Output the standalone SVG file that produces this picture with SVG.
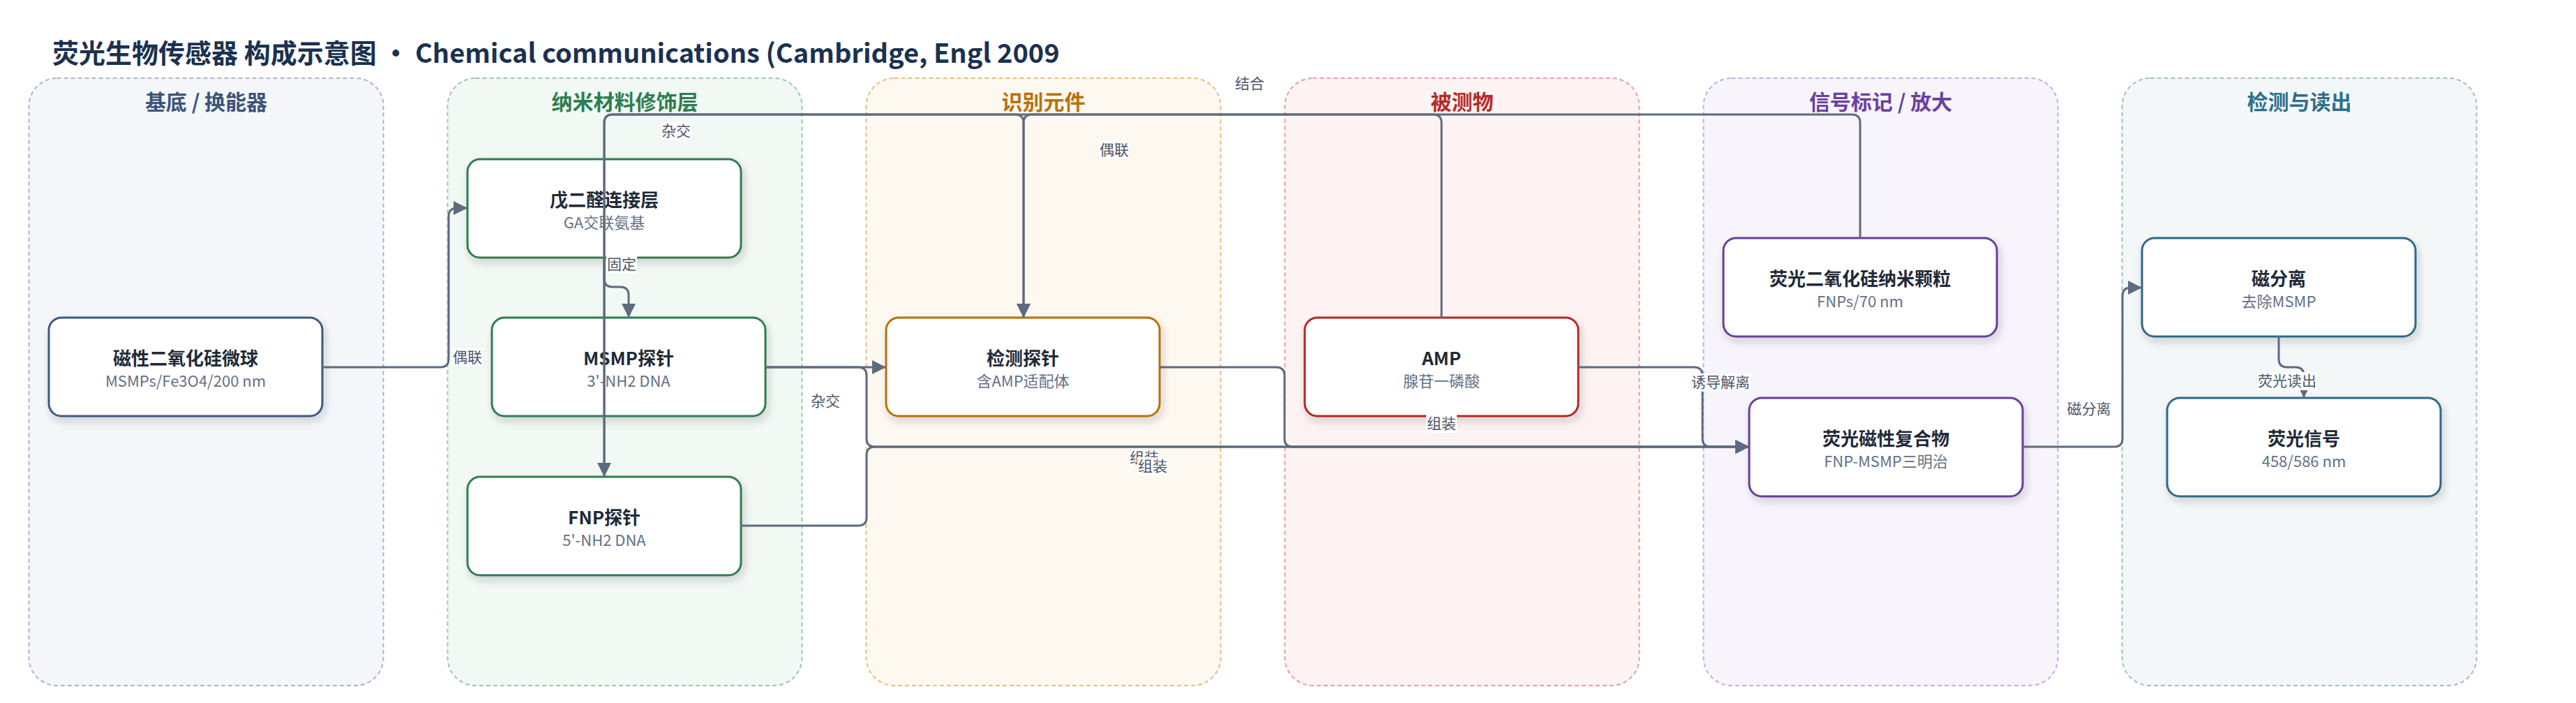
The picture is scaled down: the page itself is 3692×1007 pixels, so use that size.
<svg xmlns="http://www.w3.org/2000/svg" width="3692" height="1007" viewBox="0 0 3692 1007">
<defs>
<style>
text{font-family:"Noto Sans CJK SC","Noto Sans",sans-serif}
.title{font-size:38px;font-weight:700;fill:#1b3150}
.lane{stroke-width:2;stroke-dasharray:6 4}
.lt{font-size:30px;font-weight:700;text-anchor:middle}
.node rect{fill:#fff;stroke-width:3;filter:url(#sh)}
.nt{font-size:26px;font-weight:700;fill:#1f2a37;text-anchor:middle}
.ns{font-size:22px;fill:#667085;text-anchor:middle}
.e{fill:none;stroke:#5c6b7f;stroke-width:3}
.ea{marker-end:url(#arr)}
.lb{font-size:21px;fill:#4a5568;text-anchor:middle}
.lbg{fill:#fff}
</style>
<filter id="sh" x="-10%" y="-10%" width="130%" height="140%">
<feDropShadow dx="3" dy="6" stdDeviation="6" flood-color="#1e293b" flood-opacity="0.18"/>
</filter>
<marker id="arr" viewBox="0 0 10 10" refX="10" refY="5" markerWidth="20" markerHeight="20" markerUnits="userSpaceOnUse" orient="auto">
<path d="M0,0 L10,5 L0,10 z" fill="#5c6b7f"/>
</marker>
</defs>
<rect width="3692" height="1007" fill="#fff"/>
<text class="title" x="75" y="90">荧光生物传感器 构成示意图 • Chemical communications (Cambridge, Engl 2009</text>

<g id="lanes">
<g id="lane-substrate"><rect class="lane" x="41.5" y="112" width="508" height="870" rx="40" fill="#f4f6fa" stroke="#aab6c8"/><text class="lt" x="295.5" y="157" fill="#3b5478">基底 / 换能器</text></g>
<g id="lane-nano"><rect class="lane" x="641.5" y="112" width="508" height="870" rx="40" fill="#f2f8f4" stroke="#9cc8ac"/><text class="lt" x="895.5" y="157" fill="#2e7d4f">纳米材料修饰层</text></g>
<g id="lane-recog"><rect class="lane" x="1241.5" y="112" width="508" height="870" rx="40" fill="#fdf8f0" stroke="#e4bf85"/><text class="lt" x="1495.5" y="157" fill="#b8720a">识别元件</text></g>
<g id="lane-analyte"><rect class="lane" x="1841.5" y="112" width="508" height="870" rx="40" fill="#fdf3f2" stroke="#e5a0a0"/><text class="lt" x="2095.5" y="157" fill="#b52a2a">被测物</text></g>
<g id="lane-signal"><rect class="lane" x="2441.5" y="112" width="508" height="870" rx="40" fill="#f7f4fb" stroke="#c4aee0"/><text class="lt" x="2695.5" y="157" fill="#6b3fa0">信号标记 / 放大</text></g>
<g id="lane-readout"><rect class="lane" x="3041.5" y="112" width="508" height="870" rx="40" fill="#f3f7f8" stroke="#a0c0cc"/><text class="lt" x="3295.5" y="157" fill="#2f6f8a">检测与读出</text></g>
</g>

<g id="nodes">
<g id="n-msmp" class="node"><rect x="70" y="455" width="392" height="141" rx="18" stroke="#3d5a80"/><text class="nt" x="266" y="523">磁性二氧化硅微球</text><text class="ns" x="266" y="554">MSMPs/Fe3O4/200 nm</text></g>
<g id="n-ga" class="node"><rect x="670" y="228" width="392" height="141" rx="18" stroke="#2e7d4f"/><text class="nt" x="866" y="296">戊二醛连接层</text><text class="ns" x="866" y="327">GA交联氨基</text></g>
<g id="n-msmpprobe" class="node"><rect x="705" y="455" width="392" height="141" rx="18" stroke="#2e7d4f"/><text class="nt" x="901" y="523">MSMP探针</text><text class="ns" x="901" y="554">3'-NH2 DNA</text></g>
<g id="n-fnpprobe" class="node"><rect x="670" y="683" width="392" height="141" rx="18" stroke="#2e7d4f"/><text class="nt" x="866" y="751">FNP探针</text><text class="ns" x="866" y="782">5'-NH2 DNA</text></g>
<g id="n-detect" class="node"><rect x="1270" y="455" width="392" height="141" rx="18" stroke="#b8700a"/><text class="nt" x="1466" y="523">检测探针</text><text class="ns" x="1466" y="554">含AMP适配体</text></g>
<g id="n-amp" class="node"><rect x="1870" y="455" width="392" height="141" rx="18" stroke="#b52626"/><text class="nt" x="2066" y="523">AMP</text><text class="ns" x="2066" y="554">腺苷一磷酸</text></g>
<g id="n-fnps" class="node"><rect x="2470" y="341" width="392" height="141" rx="18" stroke="#6a3d9a"/><text class="nt" x="2666" y="409">荧光二氧化硅纳米颗粒</text><text class="ns" x="2666" y="440">FNPs/70 nm</text></g>
<g id="n-complex" class="node"><rect x="2507" y="570" width="392" height="141" rx="18" stroke="#6a3d9a"/><text class="nt" x="2703" y="638">荧光磁性复合物</text><text class="ns" x="2703" y="669">FNP-MSMP三明治</text></g>
<g id="n-magsep" class="node"><rect x="3070" y="341" width="392" height="141" rx="18" stroke="#2f6b86"/><text class="nt" x="3266" y="409">磁分离</text><text class="ns" x="3266" y="440">去除MSMP</text></g>
<g id="n-fluor" class="node"><rect x="3106" y="570" width="392" height="141" rx="18" stroke="#2f6b86"/><text class="nt" x="3302" y="638">荧光信号</text><text class="ns" x="3302" y="669">458/586 nm</text></g>
</g>

<g id="connectors">
<path class="e ea" d="M462,526 H631 Q643,526 643,514 V310 Q643,298 655,298 H670"/>
<path class="e ea" d="M866,369 V399 Q866,411 878,411 H889 Q901,411 901,423 V455"/>
<path class="e ea" d="M1097,526 H1270"/>
<path class="e ea" d="M1097,526 H1230 Q1242,526 1242,538 V628 Q1242,640 1254,640 H2507"/>
<path class="e ea" d="M1062,753 H1230 Q1242,753 1242,741 V652 Q1242,640 1254,640 H2507"/>
<path class="e ea" d="M1662,526 H1829 Q1841,526 1841,538 V628 Q1841,640 1853,640 H2507"/>
<path class="e ea" d="M2262,526 H2428 Q2440,526 2440,538 V628 Q2440,640 2452,640 H2507"/>
<path class="e ea" d="M2066,455 V176 Q2066,164 2054,164 H1479 Q1467,164 1467,176 V455"/>
<path class="e ea" d="M2666,341 V176 Q2666,164 2654,164 H878 Q866,164 866,176 V683"/>
<path class="e ea" d="M866,683 V176 Q866,164 878,164 H1455 Q1467,164 1467,176 V455"/>
<path class="e ea" d="M2899,640 H3030 Q3042,640 3042,628 V424 Q3042,412 3054,412 H3070"/>
<path class="e ea" d="M3266,482 V514 Q3266,526 3278,526 H3290 Q3302,526 3302,538 V570"/>
<g id="edge-labels">
<rect class="lbg" x="648" y="499" width="44" height="26"/><text class="lb" x="670" y="519">偶联</text>
<rect class="lbg" x="869" y="366" width="44" height="26"/><text class="lb" x="891" y="386">固定</text>
<rect class="lbg" x="947" y="175" width="44" height="26"/><text class="lb" x="969" y="195">杂交</text>
<rect class="lbg" x="1161" y="562" width="44" height="26"/><text class="lb" x="1183" y="582">杂交</text>
<rect class="lbg" x="1575" y="202" width="44" height="26"/><text class="lb" x="1597" y="222">偶联</text>
<rect class="lbg" x="1769" y="107" width="44" height="26"/><text class="lb" x="1791" y="127">结合</text>
<rect class="lbg" x="1618" y="643" width="44" height="26"/><text class="lb" x="1640" y="663">组装</text>
<rect class="lbg" x="1630" y="655" width="44" height="26"/><text class="lb" x="1652" y="675">组装</text>
<rect class="lbg" x="2044" y="594" width="44" height="26"/><text class="lb" x="2066" y="614">组装</text>
<rect class="lbg" x="2423" y="535" width="86" height="26"/><text class="lb" x="2466" y="555">诱导解离</text>
<rect class="lbg" x="2961" y="573" width="66" height="26"/><text class="lb" x="2994" y="593">磁分离</text>
<rect class="lbg" x="3235" y="533" width="86" height="26"/><text class="lb" x="3278" y="553">荧光读出</text>
</g>
</g>
</svg>
